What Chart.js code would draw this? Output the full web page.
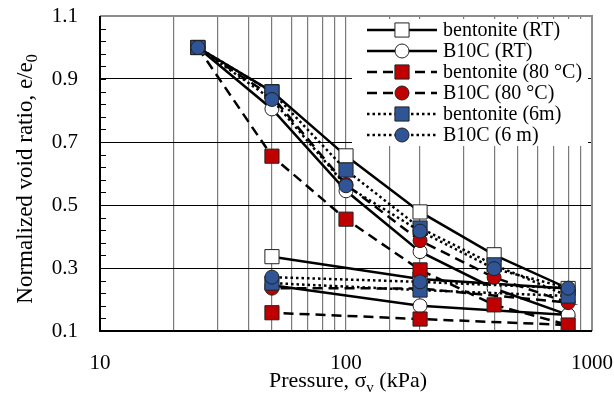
<!DOCTYPE html>
<html>
<head>
<meta charset="utf-8">
<script src="https://cdn.jsdelivr.net/npm/chart.js@4.4.0/dist/chart.umd.min.js"></script>
<style>
  body { margin: 0; background: #fff; }
</style>
</head>
<body>
<canvas id="myChart" width="614" height="400"></canvas>
<script>
// pressure steps: loading 25 -> 800 kPa, then unloading back to 50 kPa
const pressure = [25, 50, 100, 200, 400, 800, 200, 50];

// normalized void ratio e/e0 for each step
const bentoniteRT = [1.00, 0.860, 0.656, 0.478, 0.342, 0.235, 0.265, 0.336];
const b10cRT      = [1.00, 0.805, 0.545, 0.352, 0.235, 0.151, 0.180, 0.245];
const bentonite80 = [1.00, 0.655, 0.455, 0.294, 0.183, 0.119, 0.138, 0.158];
const b10c80      = [1.00, 0.845, 0.565, 0.387, 0.270, 0.190, 0.235, 0.236];
const bentonite6m = [1.00, 0.859, 0.611, 0.427, 0.310, 0.211, 0.230, 0.252];
const b10c6m      = [1.00, 0.835, 0.561, 0.417, 0.298, 0.236, 0.256, 0.271];

const seriesNames = ['bentonite (RT)', 'B10C (RT)', 'bentonite (80 °C)',
                     'B10C (80 °C)', 'bentonite (6m)', 'B10C (6 m)'];
const xTickLabels = [10, 100, 1000];

const serif = '"Liberation Serif", "Times New Roman", serif';
const red = '#c00000';
const blue = '#2f5597';

function toPoints(vals) {
  return pressure.map((p, i) => ({ x: p, y: vals[i] }));
}

// one dataset per series, later ones drawn on top (lower order)
function makeSet(name, vals, dash, square, fill, order) {
  return {
    label: name,
    data: toPoints(vals),
    showLine: true,
    borderColor: '#000',
    borderWidth: 2.5,
    borderDash: dash,
    pointStyle: square ? 'rect' : 'circle',
    pointRadius: square ? 10 : 7,
    pointHoverRadius: square ? 10 : 7,
    pointBackgroundColor: fill,
    pointBorderColor: '#222',
    pointBorderWidth: 1,
    order: order
  };
}

const solid = [];
const dashed = [10, 6];
const dotted = [2.5, 3];

const datasets = [
  makeSet(seriesNames[0], bentoniteRT, solid, true, '#fff', 6),
  makeSet(seriesNames[1], b10cRT, solid, false, '#fff', 5),
  makeSet(seriesNames[2], bentonite80, dashed, true, red, 4),
  makeSet(seriesNames[3], b10c80, dashed, false, red, 3),
  makeSet(seriesNames[4], bentonite6m, dotted, true, blue, 2),
  makeSet(seriesNames[5], b10c6m, dotted, false, blue, 1)
];

// frame, minor ticks, legend box and axis titles
const extras = {
  id: 'extras',
  afterDraw(chart) {
    const ctx = chart.ctx;
    const a = chart.chartArea;
    const ys = chart.scales.y;
    ctx.save();

    // small inward ticks on the left axis
    ctx.strokeStyle = '#000';
    ctx.lineWidth = 1;
    for (let i = 0; i <= 25; i++) {
      const y = Math.round(ys.getPixelForValue(0.1 + i * 0.04)) + 0.5;
      ctx.beginPath();
      ctx.moveTo(a.left, y);
      ctx.lineTo(a.left + 6, y);
      ctx.stroke();
    }

    // frame
    ctx.lineWidth = 2;
    ctx.strokeStyle = '#8c8c8c';
    ctx.beginPath();
    ctx.moveTo(a.left, a.top);
    ctx.lineTo(a.right, a.top);
    ctx.lineTo(a.right, a.bottom);
    ctx.stroke();
    ctx.strokeStyle = '#000';
    ctx.beginPath();
    ctx.moveTo(a.left, a.top);
    ctx.lineTo(a.left, a.bottom);
    ctx.lineTo(a.right, a.bottom);
    ctx.stroke();

    // legend
    ctx.fillStyle = '#fff';
    ctx.fillRect(352, 19, 236, 127);
    chart.data.datasets.forEach((ds, i) => {
      const y = 30 + i * 21;
      ctx.strokeStyle = ds.borderColor;
      ctx.lineWidth = ds.borderWidth;
      ctx.setLineDash(ds.borderDash);
      ctx.beginPath();
      ctx.moveTo(367, y);
      ctx.lineTo(437, y);
      ctx.stroke();
      ctx.setLineDash([]);
      ctx.fillStyle = ds.pointBackgroundColor;
      ctx.strokeStyle = ds.pointBorderColor;
      ctx.lineWidth = ds.pointBorderWidth;
      Chart.helpers.drawPoint(ctx, {
        pointStyle: ds.pointStyle, radius: ds.pointRadius,
        rotation: 0, borderWidth: ds.pointBorderWidth
      }, 402, y);
      ctx.fillStyle = '#000';
      ctx.font = '20px ' + serif;
      ctx.textAlign = 'left';
      ctx.textBaseline = 'middle';
      ctx.fillText(ds.label, 443, y + 1);
    });

    // x title with subscript
    ctx.fillStyle = '#000';
    ctx.textBaseline = 'alphabetic';
    ctx.textAlign = 'left';
    let big = '22px ' + serif, small = '15px ' + serif;
    const p1 = 'Pressure, σ', p2 = 'v', p3 = ' (kPa)';
    ctx.font = big;
    const w1 = ctx.measureText(p1).width, w3 = ctx.measureText(p3).width;
    ctx.font = small;
    const w2 = ctx.measureText(p2).width;
    let x = 348 - (w1 + w2 + w3) / 2;
    const base = 387;
    ctx.font = big; ctx.fillText(p1, x, base); x += w1;
    ctx.font = small; ctx.fillText(p2, x, base + 5); x += w2;
    ctx.font = big; ctx.fillText(p3, x, base);

    // y title with subscript
    big = '23px ' + serif; small = '16px ' + serif;
    ctx.translate(32, 179);
    ctx.rotate(-Math.PI / 2);
    const q1 = 'Normalized void ratio, e/e', q2 = '0';
    ctx.font = big;
    const v1 = ctx.measureText(q1).width;
    ctx.font = small;
    const v2 = ctx.measureText(q2).width;
    let t = -(v1 + v2) / 2;
    ctx.font = big; ctx.fillText(q1, t, 0); t += v1;
    ctx.font = small; ctx.fillText(q2, t, 5);

    ctx.restore();
  }
};

let options = {
  type: 'scatter',
  data: { datasets: datasets },
  options: {
    responsive: false,
    animation: false,
    devicePixelRatio: 1,
    layout: { padding: { top: 16, right: 22, bottom: 0, left: 0 } },
    plugins: { legend: { display: false }, tooltip: { enabled: false } },
    scales: {
      x: {
        type: 'logarithmic',
        min: 10,
        max: 1000,
        afterFit(s) {
          s.height = 69;
          s.paddingLeft = 0; s.paddingRight = 0;
        },
        border: { display: false },
        grid: { color: '#7a7a7a', lineWidth: 1.2, drawTicks: false },
        ticks: {
          autoSkip: false,
          maxRotation: 0,
          padding: 20,
          color: '#000',
          font: { family: serif, size: 21 },
          callback: function(v) {
            return xTickLabels.includes(Math.round(v)) ? String(Math.round(v)) : '';
          }
        }
      },
      y: {
        min: 0.1,
        max: 1.1,
        afterFit(s) {
          s.width = 100;
          s.paddingTop = 0; s.paddingBottom = 0;
        },
        border: { display: false },
        grid: { color: '#000', lineWidth: 1, drawTicks: false },
        ticks: {
          stepSize: 0.2,
          padding: 22,
          color: '#000',
          font: { family: serif, size: 21 },
          callback: function(v) { return v.toFixed(1); }
        }
      }
    }
  },
  plugins: [extras]
};

let mChart = new Chart(document.getElementById('myChart'), options);
</script>
</body>
</html>
